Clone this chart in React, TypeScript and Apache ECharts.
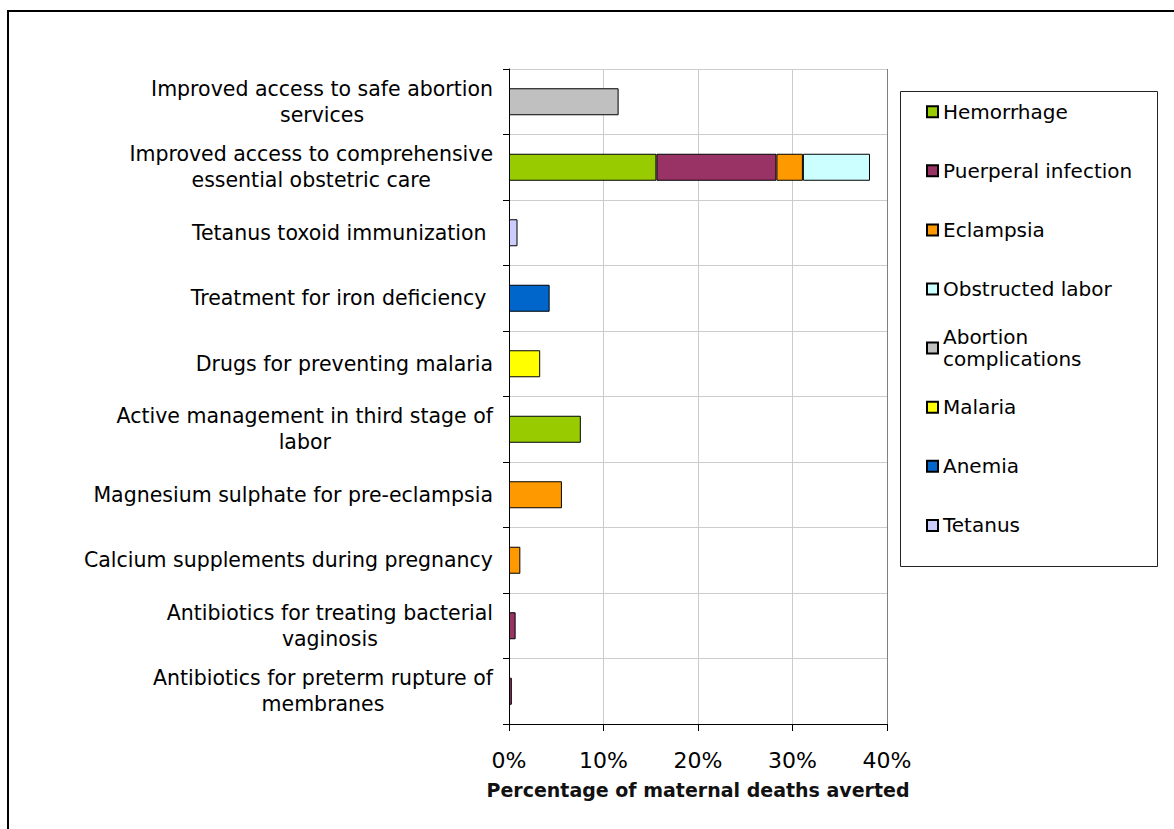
import React, { useEffect, useRef } from "react";
import * as echarts from "echarts";

const categories = [
  "Improved access to safe abortion\nservices",
  "Improved access to comprehensive\nessential obstetric care",
  "Tetanus toxoid immunization ",
  "Treatment for iron deficiency ",
  "Drugs for preventing malaria",
  "Active management in third stage of\nlabor",
  "Magnesium sulphate for pre-eclampsia",
  "Calcium supplements during pregnancy",
  "Antibiotics for treating bacterial\nvaginosis",
  "Antibiotics for preterm rupture of\nmembranes",
];

const seriesNames = [
  "Hemorrhage",
  "Puerperal infection",
  "Eclampsia",
  "Obstructed labor",
  "Abortion complications",
  "Malaria",
  "Anemia",
  "Tetanus",
];

const hemorrhage = [null, 15.6, null, null, null, 7.6, null, null, null, null];
const puerperal = [null, 12.7, null, null, null, null, null, null, 0.7, 0.3];
const eclampsia = [null, 2.8, null, null, null, null, 5.6, 1.2, null, null];
const obstructed = [null, 7.1, null, null, null, null, null, null, null, null];
const abortion = [11.6, null, null, null, null, null, null, null, null, null];
const malaria = [null, null, null, null, 3.3, null, null, null, null, null];
const anemia = [null, null, null, 4.3, null, null, null, null, null, null];
const tetanus = [null, null, 0.9, null, null, null, null, null, null, null];

const seriesValues = [hemorrhage, puerperal, eclampsia, obstructed, abortion, malaria, anemia, tetanus];
const seriesColors = ["#99CC00", "#993366", "#FF9900", "#CCFFFF", "#C0C0C0", "#FFFF00", "#0066CC", "#CCCCFF"];

const xTicks = [0, 10, 20, 30, 40];

const FONT = "DejaVu Sans";
const CAT_FONT = 20.5;
const CAT_PAD_TOP = 8;

function measure(text: string, size: number): number {
  const c = document.createElement("canvas");
  const ctx = c.getContext("2d");
  if (!ctx) return text.length * size * 0.55;
  ctx.font = `${size}px "${FONT}"`;
  return ctx.measureText(text).width;
}

export default function App() {
  const ref = useRef<HTMLDivElement>(null);
  useEffect(() => {
    if (!ref.current) return;
    const chart = echarts.init(ref.current, null, { renderer: "svg" });

    const yData = categories.map((c) => {
      const lines = c.split("\n");
      if (lines.length > 1) {
        const w = Math.max(...lines.map((l) => measure(l, CAT_FONT)));
        return { value: c, textStyle: { align: "center", padding: [CAT_PAD_TOP, w, 0, 0] } };
      }
      return c;
    });

    const legendTop0 = 111.7;
    const legendStep = 59.1;
    const legends = seriesNames.map((name, i) => {
      const center = legendTop0 + i * legendStep;
      const twoLine = name === "Abortion complications";
      return {
        data: [name],
        orient: "vertical",
        left: 926,
        top: twoLine ? center - 33 : center - 11,
        padding: 0,
        itemWidth: 11,
        itemHeight: 11,
        itemGap: 0,
        icon: "rect",
        selectedMode: false,
        formatter: twoLine ? () => "Abortion\ncomplications" : undefined,
        textStyle: {
          fontFamily: FONT,
          fontSize: 20,
          lineHeight: 22,
          color: "#000",
          padding: twoLine ? [22, 0, 0, 0] : 0,
        },
      };
    });

    const option: any = {
      animation: false,
      backgroundColor: "#fff",
      textStyle: { fontFamily: FONT },
      grid: {
        left: 509,
        top: 69,
        width: 378,
        height: 655,
        outerBoundsMode: "none",
        containLabel: false,
      },
      legend: legends,
      graphic: [
        {
          type: "rect",
          shape: { x: 8, y: 11, width: 1200, height: 900 },
          style: { fill: "none", stroke: "#000", lineWidth: 2 },
          silent: true,
          z: 100,
        },
        {
          type: "rect",
          shape: { x: 900.5, y: 91.5, width: 257, height: 475 },
          style: { fill: "none", stroke: "#222", lineWidth: 1 },
          silent: true,
          z: 100,
        },
      ],
      xAxis: {
        type: "value",
        min: xTicks[0],
        max: xTicks[xTicks.length - 1],
        interval: 10,
        name: "Percentage of maternal deaths averted",
        nameLocation: "middle",
        nameGap: 56,
        nameTextStyle: { fontFamily: FONT, fontSize: 19, fontWeight: "bold", color: "#111" },
        axisLine: { show: true, lineStyle: { color: "#000", width: 1 } },
        axisTick: { show: true, length: 7, lineStyle: { color: "#000" } },
        axisLabel: {
          formatter: "{value}%",
          fontFamily: FONT,
          fontSize: 22,
          color: "#000",
          margin: 25,
        },
        splitLine: {
          show: true,
          lineStyle: { color: ["#cccccc", "#cccccc", "#cccccc", "#cccccc", "#808080"], width: 1 },
        },
      },
      yAxis: {
        type: "category",
        inverse: true,
        data: yData,
        axisLine: { show: true, lineStyle: { color: "#000", width: 1 } },
        axisTick: { show: true, length: 6, alignWithLabel: false, lineStyle: { color: "#000" } },
        axisLabel: {
          interval: 0,
          fontFamily: FONT,
          fontSize: CAT_FONT,
          lineHeight: 26,
          color: "#000",
          margin: 16,
          padding: [CAT_PAD_TOP, 0, 0, 0],
        },
        splitLine: { show: true, lineStyle: { color: "#cccccc", width: 1 } },
      },
      series: seriesNames.map((name, i) => ({
        name,
        type: "bar",
        stack: "total",
        barWidth: 27,
        data: seriesValues[i],
        itemStyle: { color: seriesColors[i], borderColor: "#000", borderWidth: 1 },
        emphasis: { disabled: true },
      })),
    };

    chart.setOption(option);
    return () => chart.dispose();
  }, []);

  return (
    <div
      ref={ref}
      style={{ position: "absolute", left: 0, top: 0, width: 1174, height: 829, background: "#fff" }}
    />
  );
}
